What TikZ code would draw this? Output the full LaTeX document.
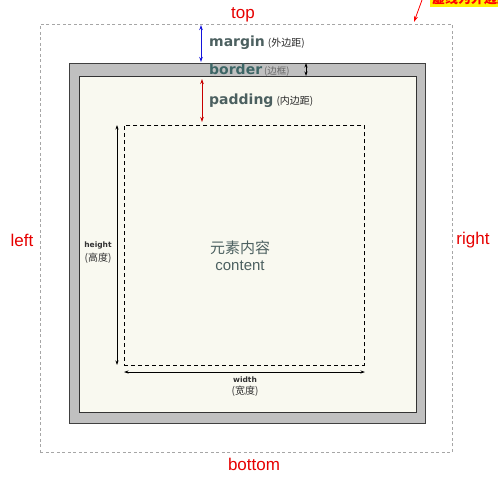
\documentclass[tikz,border=0pt]{standalone}
\usepackage{fontspec}
\setmainfont{Liberation Sans}
\newfontfamily\cjk{Noto Sans CJK SC}
\newfontfamily\dv{DejaVu Sans}
\usetikzlibrary{arrows.meta}
\definecolor{lblred}{RGB}{230,0,0}
\definecolor{txtgray}{RGB}{76,96,96}
\definecolor{bordgray}{RGB}{192,192,192}
\definecolor{cream}{RGB}{249,249,240}
\definecolor{darkred}{RGB}{200,0,0}
\definecolor{bluearr}{RGB}{20,20,220}
\tikzset{
  sidelabel/.style={text=lblred, font=\fontsize{17}{17}\selectfont, inner sep=0},
  marginbox/.style={draw=black!35, line width=0.8pt, dash pattern=on 3pt off 2.5pt, anchor=north west, inner sep=0},
  borderbox/.style={draw=black!75, fill=bordgray, line width=1pt, anchor=north west, inner sep=0},
  padbox/.style={draw=black!80, fill=cream, line width=1pt, anchor=north west, inner sep=0},
  contentbox/.style={draw=black, line width=0.8pt, dash pattern=on 4pt off 3pt, anchor=north west, inner sep=0},
  dimarrow/.style={{Stealth[length=5pt,width=3.5pt]}-{Stealth[length=5pt,width=3.5pt]}, line width=1pt},
  thinarrow/.style={{Stealth[length=4.5pt,width=3pt]}-{Stealth[length=4.5pt,width=3pt]}, line width=0.8pt},
  partlabel/.style={anchor=west, inner sep=0, text=txtgray},
  small/.style={font=\dv\bfseries\fontsize{7.5}{9}\selectfont, text=black!80, inner sep=0, align=center}
}
\begin{document}
\begin{tikzpicture}[x=1pt,y=-1pt]
\useasboundingbox (0,0) rectangle (498,482);
% note at top right (cropped, as in the reference)
\fill[yellow] (430,0) rectangle (498,7);
\begin{scope}
\clip (430,0) rectangle (498,7);
\node[anchor=west, text=red, font=\cjk\bfseries\fontsize{13}{13}\selectfont, inner sep=0] (note) at (432,-1) {虚线为外边距};
\end{scope}
\coordinate (notestart) at (422,0);
\coordinate (notetip) at (414,22);
\draw[-{Stealth[length=6pt,width=4pt]}, red, line width=0.8pt] (notestart) -- (notetip);

% boxes
\node[marginbox, minimum width=412pt, minimum height=428pt] (mbox) at (40,24) {};
\node[borderbox, minimum width=356pt, minimum height=360pt] (bbox) at (69,63) {};
\node[padbox, minimum width=337pt, minimum height=336pt] (pbox) at (79,76) {};
\node[contentbox, minimum width=240pt, minimum height=240pt] (cbox) at (124,125) {};

% dimension arrows
\coordinate (m1) at (201,25); \coordinate (m2) at (201,62);
\draw[dimarrow, bluearr] (m1) -- (m2);
\coordinate (b1) at (306,63); \coordinate (b2) at (306,76);
\draw[thinarrow, black] (b1) -- (b2);
\coordinate (p1) at (202,79); \coordinate (p2) at (202,122);
\draw[dimarrow, darkred] (p1) -- (p2);
\coordinate (h1) at (117,125); \coordinate (h2) at (117,365);
\draw[thinarrow, black] (h1) -- (h2);
\coordinate (w1) at (124,372); \coordinate (w2) at (365,372);
\draw[thinarrow, black] (w1) -- (w2);

% part labels
\node[partlabel] (lmargin) at (209,43) {{\dv\bfseries\fontsize{14}{14}\selectfont margin}\hspace{3pt}{\cjk\fontsize{10}{12}\selectfont\color{black!85}(外边距)}};
\node[partlabel] (lborder) at (209,70) {{\dv\bfseries\fontsize{14}{14}\selectfont\color{txtgray!80!teal}border}\hspace{2pt}{\cjk\fontsize{9.5}{12}\selectfont\color{black!60}(边框)}};
\node[partlabel] (lpadding) at (209,101) {{\dv\bfseries\fontsize{14}{14}\selectfont padding}\hspace{3pt}{\cjk\fontsize{10}{12}\selectfont\color{black!85}(内边距)}};

% content
\node[text=txtgray, align=center, inner sep=0, font=\fontsize{15}{17}\selectfont] (content) at (240,256) {{\cjk 元素内容}\\content};
\node[small] (hlabel) at (98,253) {height\\[3pt]{\cjk\mdseries\fontsize{10}{10}\selectfont(高度)}};
\node[small] (wlabel) at (245,387) {width\\[3pt]{\cjk\mdseries\fontsize{10}{10}\selectfont(宽度)}};

% side labels
\node[sidelabel] (top) at (243,15) {top};
\node[sidelabel] (bottom) at (254,464) {bottom};
\node[sidelabel] (left) at (22,240) {left};
\node[sidelabel] (right) at (473,240) {right};
\end{tikzpicture}
\end{document}
